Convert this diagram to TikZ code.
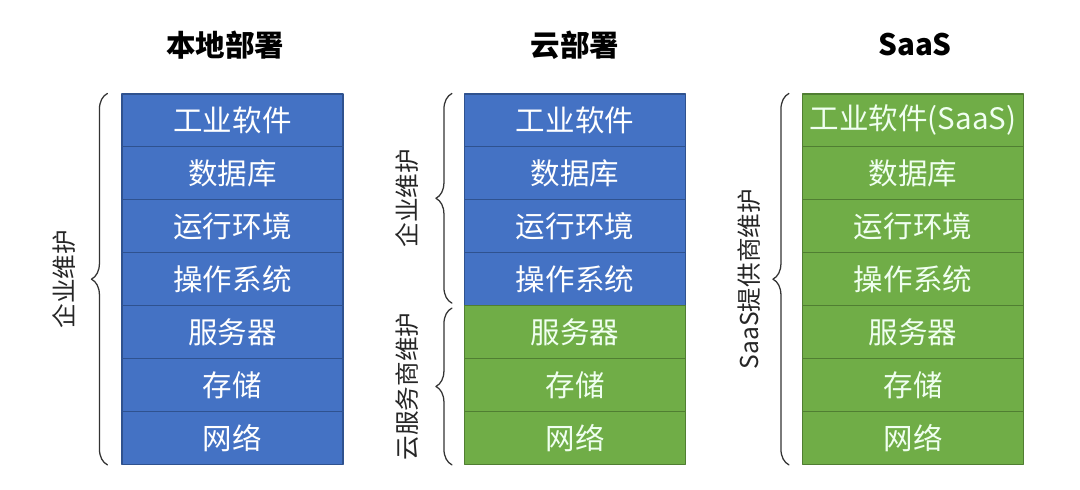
\documentclass[tikz,border=0pt]{standalone}
\usepackage{fontspec}
\setmainfont{Noto Sans CJK SC}
\usetikzlibrary{positioning,decorations.pathreplacing}
\definecolor{stackblue}{HTML}{4472C4}
\definecolor{stackblueedge}{HTML}{2F528F}
\definecolor{stackgreen}{HTML}{70AD47}
\definecolor{stackgreenedge}{HTML}{507E32}
\tikzset{
  every picture/.style={line join=round, line cap=round},
  layer/.style={minimum width=5.525cm, minimum height=1.3225cm, inner sep=0pt, line width=0.8pt, font=\fontsize{21}{25}\selectfont},
  bluelayer/.style={layer, fill=stackblue, draw=stackblueedge, text=white},
  greenlayer/.style={layer, fill=stackgreen, draw=stackgreenedge, text=green!6!white},
  coltitle/.style={font=\fontsize{21}{25}\selectfont\bfseries},
  bracket/.style={decorate, decoration={brace, amplitude=0.4cm}, line width=0.9pt, black!80},
  sidelabel/.style={rotate=90, font=\fontsize{17.5}{21}\selectfont, text=black!85},
}

\begin{document}
\begin{tikzpicture}
\useasboundingbox (0,0) rectangle (27,-12.225);
% column titles
\node[coltitle] (t1) at (5.63,-1.125) {本地部署};
\node[coltitle] (t2) at (14.375,-1.125) {云部署};
\node[coltitle] (t3) at (22.875,-1.125) {SaaS};
% on-premise stack
\foreach \i/\t in {1/工业软件,2/数据库,3/运行环境,4/操作系统,5/服务器,6/存储,7/网络}{\node[bluelayer] (l\i) at (5.8125,{-2.35-(\i-0.5)*1.3225}) {\t};}
% cloud stack
\foreach \i/\t in {1/工业软件,2/数据库,3/运行环境,4/操作系统}{\node[bluelayer] (c\i) at (14.375,{-2.35-(\i-0.5)*1.3225}) {\t};}
\foreach \i/\t in {5/服务器,6/存储,7/网络}{\node[greenlayer] (c\i) at (14.375,{-2.35-(\i-0.5)*1.3225}) {\t};}
% saas stack
\foreach \i/\t in {1/工业软件(SaaS),2/数据库,3/运行环境,4/操作系统,5/服务器,6/存储,7/网络}{\node[greenlayer] (s\i) at (22.825,{-2.35-(\i-0.5)*1.3225}) {\t};}
% braces
\draw[bracket] ([xshift=-0.35cm]l7.south west) -- ([xshift=-0.35cm]l1.north west) node[midway, xshift=-1.075cm, sidelabel] {企业维护};
\draw[bracket] ([xshift=-0.3cm,yshift=0.075cm]c4.south west) -- ([xshift=-0.3cm]c1.north west) node[midway, xshift=-1.125cm, sidelabel] {企业维护};
\draw[bracket] ([xshift=-0.3cm]c7.south west) -- ([xshift=-0.3cm,yshift=-0.075cm]c5.north west) node[midway, xshift=-1.125cm, sidelabel] {云服务商维护};
\draw[bracket] ([xshift=-0.325cm]s7.south west) -- ([xshift=-0.325cm]s1.north west) node[midway, xshift=-1.0cm, sidelabel] {SaaS提供商维护};
\end{tikzpicture}
\end{document}
